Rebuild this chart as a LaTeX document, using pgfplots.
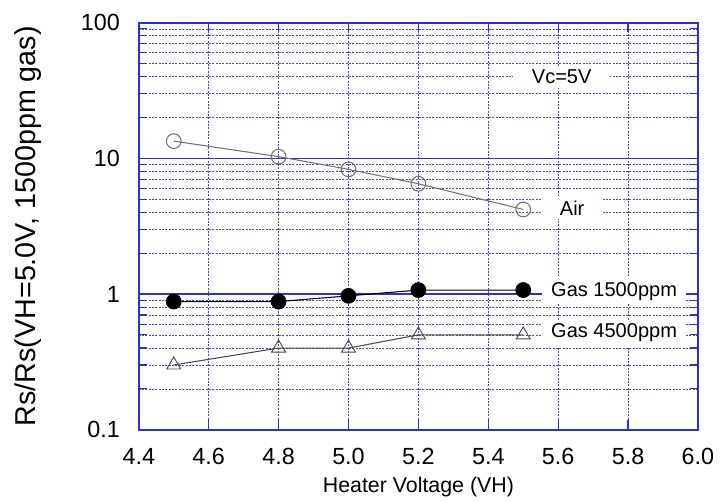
\documentclass[border=0pt]{standalone}
\usepackage{pgfplots}
\pgfplotsset{compat=1.18}
\usepackage{fontspec}
\setmainfont{Liberation Sans}
\definecolor{frameblue}{RGB}{45,45,220}
\definecolor{gridblue}{RGB}{70,70,190}
\begin{document}
\begin{tikzpicture}
\begin{axis}[
  scale only axis,
  width=419pt, height=305pt,
  ymode=log,
  xmin=4.4, xmax=6.0, ymin=0.1, ymax=100,
  xtick={4.4,4.6,...,6.0},
  ytick={0.1,1,10,100},
  yticklabels={0.1,1,10,100},
  minor ytick={0.2,0.3,0.4,0.5,0.6,0.7,0.8,0.9,2,3,4,5,6,7,8,9,20,30,40,50,60,70,80,90},
  /pgf/number format/assume math mode=true,
  tick label style={font=\fontsize{17.5}{21}\selectfont, black},
  xticklabel style={anchor=center, yshift=-20pt, /pgf/number format/fixed,
    /pgf/number format/fixed zerofill, /pgf/number format/precision=1},
  yticklabel style={anchor=east, xshift=-14pt, inner sep=0pt},
  axis line style={frameblue, line width=1.4pt},
  every tick/.style={frameblue, line width=0.9pt},
  tick align=inside,
  major tick length=7pt, minor tick length=6pt,
  xmajorgrids, ymajorgrids, yminorgrids,
  major grid style={frameblue, line width=0.9pt},
  minor grid style={gridblue, line width=0.5pt, dash pattern=on 1.5pt off 1pt},
  x grid style={gridblue, line width=0.5pt, dash pattern=on 1.5pt off 1pt},
  xlabel={Heater Voltage (VH)},
  ylabel={Rs/Rs(VH=5.0V, 1500ppm gas)},
  xlabel style={font=\fontsize{16}{19}\selectfont, at={(rel axis cs:0.5,0)},
    anchor=center, yshift=-43pt},
  ylabel style={font=\fontsize{21.5}{25}\selectfont, at={(rel axis cs:0,0.5)},
    anchor=center, yshift=83pt},
  clip=false,
]
% Air
\addplot[color=black!55, line width=0.8pt, mark=o, mark size=5.5pt,
  mark options={line width=0.8pt, fill=none}]
coordinates {(4.5,13.4) (4.8,10.3) (5.0,8.3) (5.2,6.5) (5.5,4.2)};
% Gas 1500ppm
\addplot[color=black, line width=0.8pt, mark=*, mark size=5.5pt]
coordinates {(4.5,0.88) (4.8,0.88) (5.0,0.97) (5.2,1.07) (5.5,1.07)};
% Gas 4500ppm
\addplot[color=black!70, line width=0.8pt, mark=triangle, mark size=6pt,
  mark options={line width=0.7pt, fill=none}]
coordinates {(4.5,0.30) (4.8,0.40) (5.0,0.40) (5.2,0.50) (5.5,0.50)};

\node[fill=white, inner xsep=14pt, inner ysep=3pt, font=\fontsize{15}{18}\selectfont]
  at (axis cs:5.61,40) {Vc=5V};
\node[fill=white, inner xsep=14pt, inner ysep=3pt, font=\fontsize{15}{18}\selectfont]
  at (axis cs:5.64,4.3) {Air};
\node[fill=white, inner xsep=7pt, inner ysep=3pt, font=\fontsize{15}{18}\selectfont]
  at (axis cs:5.76,1.05) {Gas 1500ppm};
\node[fill=white, inner xsep=7pt, inner ysep=3pt, font=\fontsize{15}{18}\selectfont]
  at (axis cs:5.76,0.52) {Gas 4500ppm};

% page margins as in the reference
\path (rel axis cs:0,0) ++(-104pt,-54pt);
\path (rel axis cs:1,1) ++(18pt,17pt);
\end{axis}
\end{tikzpicture}
\end{document}
